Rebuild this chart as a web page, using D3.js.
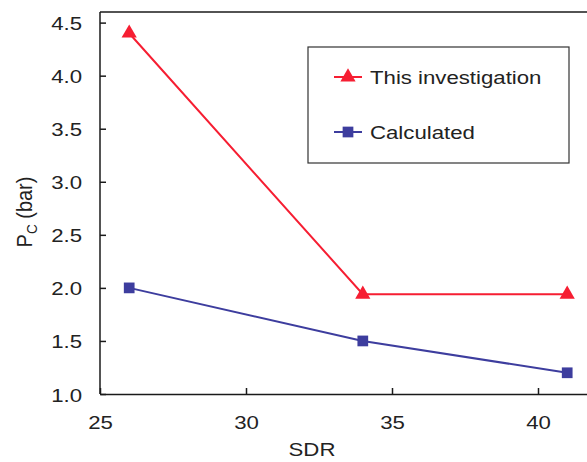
<!DOCTYPE html>
<html>
<head>
<meta charset="utf-8">
<script src="https://cdn.jsdelivr.net/npm/d3@7"></script>
<style>
  html, body { margin: 0; padding: 0; background: #fff; }
  svg { display: block; font-family: "Liberation Sans", Arial, sans-serif; }
</style>
</head>
<body>
<svg id="chart" width="587" height="462"></svg>
<script>
// SDR values shared by both series
const sdr = [26, 34, 41];
// Critical pressure P_C (bar)
const thisInvestigation = [4.4, 1.94, 1.94];
const calculated = [2.0, 1.5, 1.2];
const xTicks = [25, 30, 35, 40];
const yTicks = [1.0, 1.5, 2.0, 2.5, 3.0, 3.5, 4.0, 4.5];
const seriesNames = ["This investigation", "Calculated"];

const red = "#f61e32";
const blue = "#3d3d9e";
const axisColor = "#1a1a1a";
const textColor = "#222";
const fs = 18.5;       // font size
const sx = 1.2;        // horizontal text stretch

const svg = d3.select("#chart");
const m = { left: 100, top: 12, bottom: 394 };

const x = d3.scaleLinear().domain([25, 42]).range([m.left, m.left + 17 * 29.2]);
const y = d3.scaleLinear().domain([1, 4.6]).range([m.bottom, m.top]);

// Helper: horizontally stretched text
function sText(parent, px, py, str, anchor) {
  return parent.append("text")
    .attr("transform", `translate(${px},${py}) scale(${sx},1)`)
    .attr("text-anchor", anchor || "start")
    .attr("font-size", fs).attr("fill", textColor)
    .text(str);
}

// Frame top line
svg.append("line")
  .attr("x1", m.left).attr("x2", x(42))
  .attr("y1", m.top).attr("y2", m.top)
  .attr("stroke", axisColor).attr("stroke-width", 1.5);

// Y axis (ticks point inward)
const yAxis = d3.axisLeft(y).tickValues(yTicks).tickFormat(d3.format(".1f"))
  .tickSizeInner(-6).tickSizeOuter(0);
const gy = svg.append("g").attr("transform", `translate(${m.left},0)`).call(yAxis);
gy.select(".domain").attr("stroke", axisColor).attr("stroke-width", 1.5)
  .attr("d", `M0,${m.top}V${m.bottom}`);
gy.selectAll(".tick line").attr("stroke", axisColor).attr("stroke-width", 1.5);
gy.selectAll(".tick text")
  .attr("x", 0).attr("dy", null)
  .attr("transform", `translate(-18,7) scale(${sx},1)`)
  .attr("text-anchor", "end")
  .attr("font-size", fs).attr("fill", textColor)
  .attr("font-family", "Liberation Sans, Arial, sans-serif");

// X axis (ticks point inward)
const xAxis = d3.axisBottom(x).tickValues(xTicks).tickFormat(d3.format("d"))
  .tickSizeInner(-6).tickSizeOuter(0);
const gx = svg.append("g").attr("transform", `translate(0,${m.bottom})`).call(xAxis);
gx.select(".domain").attr("stroke", axisColor).attr("stroke-width", 1.5);
gx.selectAll(".tick line").attr("stroke", axisColor).attr("stroke-width", 1.5);
gx.selectAll(".tick text")
  .attr("y", 0).attr("dy", null)
  .attr("transform", `translate(0,35) scale(${sx},1)`)
  .attr("font-size", fs).attr("fill", textColor)
  .attr("font-family", "Liberation Sans, Arial, sans-serif");

// Axis titles
sText(svg, 312, 456, "SDR", "middle");

const yTitle = svg.append("text")
  .attr("transform", "translate(32,212) rotate(-90) scale(1.08,1.15)")
  .attr("text-anchor", "middle").attr("font-size", fs).attr("fill", textColor);
yTitle.append("tspan").text("P");
yTitle.append("tspan").attr("font-size", 12.5).attr("dy", 4).text("C");
yTitle.append("tspan").attr("dy", -4).text(" (bar)");

// Series
const line = d3.line().x(d => x(d[0])).y(d => y(d[1]));
const redPts = sdr.map((s, i) => [s, thisInvestigation[i]]);
const bluePts = sdr.map((s, i) => [s, calculated[i]]);

svg.append("path").datum(bluePts).attr("d", line)
  .attr("fill", "none").attr("stroke", blue).attr("stroke-width", 2);
svg.append("path").datum(redPts).attr("d", line)
  .attr("fill", "none").attr("stroke", red).attr("stroke-width", 2);

const tri = d3.symbol().type(d3.symbolTriangle).size(100);
const sq = d3.symbol().type(d3.symbolSquare).size(115);

svg.selectAll(".sq").data(bluePts).join("path")
  .attr("class", "sq").attr("d", sq)
  .attr("transform", d => `translate(${x(d[0])},${y(d[1])})`)
  .attr("fill", blue);
svg.selectAll(".tri").data(redPts).join("path")
  .attr("class", "tri").attr("d", tri)
  .attr("transform", d => `translate(${x(d[0])},${y(d[1])})`)
  .attr("fill", red);

// Legend
const lg = svg.append("g");
lg.append("rect").attr("x", 308).attr("y", 47).attr("width", 261).attr("height", 116)
  .attr("fill", "#fff").attr("stroke", "#333").attr("stroke-width", 1.2);

const legendRows = [
  { name: seriesNames[0], color: red, sym: tri, yy: 77 },
  { name: seriesNames[1], color: blue, sym: sq, yy: 132 }
];
legendRows.forEach(r => {
  lg.append("line").attr("x1", 334).attr("x2", 362).attr("y1", r.yy).attr("y2", r.yy)
    .attr("stroke", r.color).attr("stroke-width", 2);
  lg.append("path").attr("d", r.sym).attr("transform", `translate(348,${r.yy})`)
    .attr("fill", r.color);
  sText(lg, 370, r.yy + 7, r.name);
});
</script>
</body>
</html>
